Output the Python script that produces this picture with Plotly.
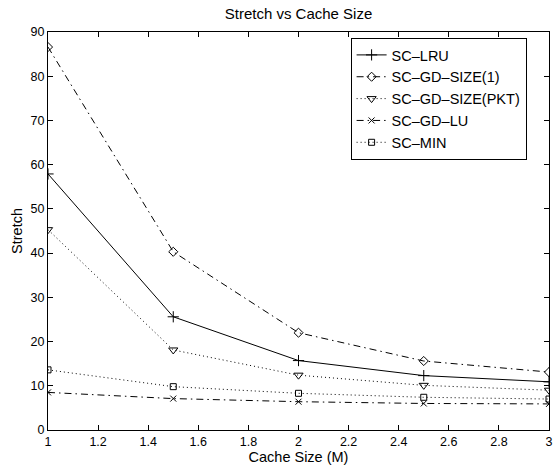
import plotly.graph_objects as go

# Cache sizes (MB)
cache_size = [1, 1.5, 2, 2.5, 3]

# Stretch for each replacement policy
sc_lru = [57.9, 25.6, 15.7, 12.3, 10.9]
sc_gd_size_1 = [86.6, 40.3, 22.0, 15.6, 13.1]
sc_gd_size_pkt = [45.3, 18.1, 12.4, 10.1, 9.0]
sc_gd_lu = [8.5, 7.1, 6.4, 6.0, 5.9]
sc_min = [13.6, 9.8, 8.3, 7.4, 7.0]

x_ticks = [1, 1.2, 1.4, 1.6, 1.8, 2, 2.2, 2.4, 2.6, 2.8, 3]
x_tick_labels = ["1", "1.2", "1.4", "1.6", "1.8", "2", "2.2", "2.4", "2.6", "2.8", "3"]
y_ticks = [0, 10, 20, 30, 40, 50, 60, 70, 80, 90]

DASHDOT = "7px,4px,1.5px,4px"
DOTTED = "1px,3px"

series = [
    ("SC\u2013LRU", sc_lru, "solid", "cross-thin", 8),
    ("SC\u2013GD\u2013SIZE(1)", sc_gd_size_1, DASHDOT, "diamond-open", 7),
    ("SC\u2013GD\u2013SIZE(PKT)", sc_gd_size_pkt, DOTTED, "triangle-down-open", 8),
    ("SC\u2013GD\u2013LU", sc_gd_lu, DASHDOT, "x-thin", 6),
    ("SC\u2013MIN", sc_min, DOTTED, "square-open", 6),
]

fig = go.Figure()
for name, values, dash, symbol, size in series:
    fig.add_trace(go.Scatter(
        x=cache_size, y=values, name=name, mode="lines+markers",
        line=dict(color="black", width=1, dash=dash),
        marker=dict(symbol=symbol, size=size, color="black",
                    line=dict(color="black", width=1)),
    ))

axis_common = dict(
    showgrid=False, zeroline=False, showline=True, linecolor="black",
    linewidth=1, mirror="ticks", ticks="inside", ticklen=5,
    tickcolor="black", ticklabeloverflow="allow",
    tickfont=dict(family="Liberation Sans", size=12.5, color="black"),
)

fig.update_layout(
    width=555, height=468,
    margin=dict(l=48, r=2, t=32, b=38),
    paper_bgcolor="white", plot_bgcolor="white",
    font=dict(family="Liberation Sans", color="black"),
    title=dict(text="Stretch vs Cache Size", x=0.5, xref="paper",
               y=1 - 14 / 468, yref="container", yanchor="middle",
               font=dict(size=15, color="black")),
    xaxis=dict(range=[1, 3], tickvals=x_ticks, ticktext=x_tick_labels,
               title=dict(text="Cache Size (M)", standoff=2,
                          font=dict(size=14.5, color="black")),
               **axis_common),
    yaxis=dict(range=[0, 90], tickvals=y_ticks,
               title=dict(text="Stretch", standoff=4,
                          font=dict(size=14.5, color="black")),
               **axis_common),
    legend=dict(x=0.604, y=0.985, xanchor="left", yanchor="top",
                bordercolor="black", borderwidth=1, bgcolor="white",
                font=dict(family="Liberation Sans", size=14.5, color="black"),
                tracegroupgap=0, itemwidth=30),
    showlegend=True,
)

fig.write_html("out.html")
